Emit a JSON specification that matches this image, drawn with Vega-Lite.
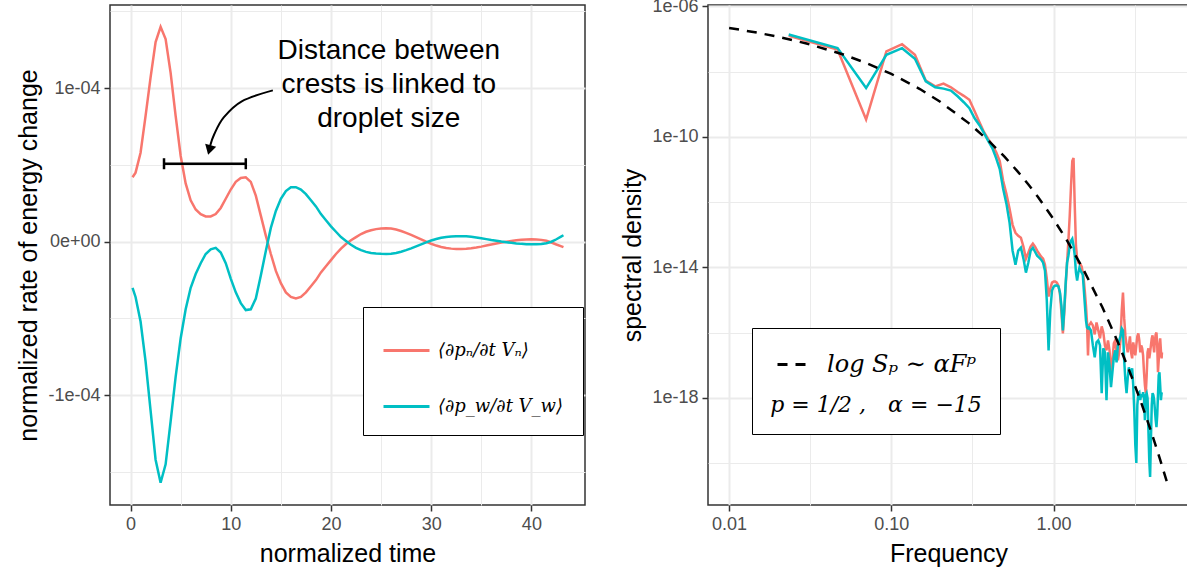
{
  "$schema": "https://vega.github.io/schema/vega-lite/v6.json",
  "background": "white",
  "padding": {"left": 16, "top": -4, "right": 0, "bottom": 0},
  "bounds": "flush",
  "spacing": 123,
  "config": {
    "font": "Liberation Sans",
    "view": {"stroke": "#333333", "strokeWidth": 1.5},
    "axis": {
      "domain": false,
      "gridColor": "#EBEBEB",
      "labelFontSize": 18,
      "labelColor": "#4D4D4D",
      "labelFont": "Liberation Sans",
      "titleFont": "Liberation Sans",
      "titleFontSize": 25,
      "titleFontWeight": "normal",
      "titleColor": "#000000",
      "tickColor": "#333333",
      "tickWidth": 1.5,
      "tickSize": 6,
      "labelPadding": 4,
      "labelOverlap": false,
      "labelFlush": false
    },
    "legend": {
      "labelFont": "DejaVu Serif",
      "labelFontStyle": "italic",
      "labelColor": "#000000",
      "titleFont": "DejaVu Serif",
      "titleColor": "#000000",
      "titleFontWeight": "normal",
      "strokeColor": "#000000",
      "fillColor": "#FFFFFF"
    }
  },
  "datasets": {
    "ts": [
      {"t": 0.2, "n": 0.42e-4, "w": -0.30e-4},
      {"t": 0.5, "n": 0.45e-4, "w": -0.36e-4},
      {"t": 1.0, "n": 0.58e-4, "w": -0.52e-4},
      {"t": 1.5, "n": 0.82e-4, "w": -0.78e-4},
      {"t": 2.0, "n": 1.07e-4, "w": -1.10e-4},
      {"t": 2.5, "n": 1.30e-4, "w": -1.42e-4},
      {"t": 3.0, "n": 1.40e-4, "w": -1.57e-4},
      {"t": 3.5, "n": 1.32e-4, "w": -1.45e-4},
      {"t": 4.0, "n": 1.10e-4, "w": -1.17e-4},
      {"t": 4.5, "n": 0.82e-4, "w": -0.88e-4},
      {"t": 5.0, "n": 0.56e-4, "w": -0.63e-4},
      {"t": 5.5, "n": 0.38e-4, "w": -0.44e-4},
      {"t": 6.0, "n": 0.27e-4, "w": -0.30e-4},
      {"t": 6.5, "n": 0.21e-4, "w": -0.21e-4},
      {"t": 7.0, "n": 0.18e-4, "w": -0.14e-4},
      {"t": 7.5, "n": 0.165e-4, "w": -0.08e-4},
      {"t": 8.0, "n": 0.165e-4, "w": -0.05e-4},
      {"t": 8.5, "n": 0.18e-4, "w": -0.04e-4},
      {"t": 9.0, "n": 0.22e-4, "w": -0.07e-4},
      {"t": 9.5, "n": 0.28e-4, "w": -0.14e-4},
      {"t": 10.0, "n": 0.34e-4, "w": -0.24e-4},
      {"t": 10.5, "n": 0.39e-4, "w": -0.33e-4},
      {"t": 11.0, "n": 0.415e-4, "w": -0.40e-4},
      {"t": 11.5, "n": 0.42e-4, "w": -0.445e-4},
      {"t": 12.0, "n": 0.39e-4, "w": -0.44e-4},
      {"t": 12.5, "n": 0.30e-4, "w": -0.37e-4},
      {"t": 13.0, "n": 0.17e-4, "w": -0.22e-4},
      {"t": 13.5, "n": 0.04e-4, "w": -0.06e-4},
      {"t": 14.0, "n": -0.08e-4, "w": 0.09e-4},
      {"t": 14.5, "n": -0.19e-4, "w": 0.20e-4},
      {"t": 15.0, "n": -0.27e-4, "w": 0.28e-4},
      {"t": 15.5, "n": -0.33e-4, "w": 0.33e-4},
      {"t": 16.0, "n": -0.36e-4, "w": 0.355e-4},
      {"t": 16.5, "n": -0.37e-4, "w": 0.355e-4},
      {"t": 17.0, "n": -0.36e-4, "w": 0.34e-4},
      {"t": 17.5, "n": -0.33e-4, "w": 0.31e-4},
      {"t": 18.0, "n": -0.29e-4, "w": 0.27e-4},
      {"t": 18.5, "n": -0.25e-4, "w": 0.23e-4},
      {"t": 19.0, "n": -0.20e-4, "w": 0.18e-4},
      {"t": 19.5, "n": -0.16e-4, "w": 0.14e-4},
      {"t": 20.0, "n": -0.12e-4, "w": 0.10e-4},
      {"t": 20.5, "n": -0.08e-4, "w": 0.065e-4},
      {"t": 21.0, "n": -0.045e-4, "w": 0.03e-4},
      {"t": 21.5, "n": -0.015e-4, "w": 0.005e-4},
      {"t": 22.0, "n": 0.01e-4, "w": -0.02e-4},
      {"t": 22.5, "n": 0.03e-4, "w": -0.04e-4},
      {"t": 23.0, "n": 0.05e-4, "w": -0.055e-4},
      {"t": 23.5, "n": 0.065e-4, "w": -0.066e-4},
      {"t": 24.0, "n": 0.075e-4, "w": -0.073e-4},
      {"t": 24.5, "n": 0.082e-4, "w": -0.077e-4},
      {"t": 25.0, "n": 0.086e-4, "w": -0.079e-4},
      {"t": 25.5, "n": 0.088e-4, "w": -0.08e-4},
      {"t": 26.0, "n": 0.086e-4, "w": -0.078e-4},
      {"t": 26.5, "n": 0.08e-4, "w": -0.073e-4},
      {"t": 27.0, "n": 0.07e-4, "w": -0.065e-4},
      {"t": 27.5, "n": 0.058e-4, "w": -0.055e-4},
      {"t": 28.0, "n": 0.044e-4, "w": -0.043e-4},
      {"t": 28.5, "n": 0.03e-4, "w": -0.03e-4},
      {"t": 29.0, "n": 0.015e-4, "w": -0.017e-4},
      {"t": 29.5, "n": 0.0, "w": -0.004e-4},
      {"t": 30.0, "n": -0.013e-4, "w": 0.008e-4},
      {"t": 30.5, "n": -0.025e-4, "w": 0.018e-4},
      {"t": 31.0, "n": -0.034e-4, "w": 0.026e-4},
      {"t": 31.5, "n": -0.041e-4, "w": 0.031e-4},
      {"t": 32.0, "n": -0.045e-4, "w": 0.034e-4},
      {"t": 32.5, "n": -0.047e-4, "w": 0.036e-4},
      {"t": 33.0, "n": -0.047e-4, "w": 0.036e-4},
      {"t": 33.5, "n": -0.046e-4, "w": 0.035e-4},
      {"t": 34.0, "n": -0.043e-4, "w": 0.032e-4},
      {"t": 34.5, "n": -0.038e-4, "w": 0.028e-4},
      {"t": 35.0, "n": -0.032e-4, "w": 0.023e-4},
      {"t": 35.5, "n": -0.025e-4, "w": 0.017e-4},
      {"t": 36.0, "n": -0.018e-4, "w": 0.011e-4},
      {"t": 36.5, "n": -0.011e-4, "w": 0.006e-4},
      {"t": 37.0, "n": -0.005e-4, "w": 0.001e-4},
      {"t": 37.5, "n": 0.0, "w": -0.003e-4},
      {"t": 38.0, "n": 0.005e-4, "w": -0.007e-4},
      {"t": 38.5, "n": 0.01e-4, "w": -0.011e-4},
      {"t": 39.0, "n": 0.013e-4, "w": -0.014e-4},
      {"t": 39.5, "n": 0.015e-4, "w": -0.016e-4},
      {"t": 40.0, "n": 0.016e-4, "w": -0.017e-4},
      {"t": 40.5, "n": 0.015e-4, "w": -0.017e-4},
      {"t": 41.0, "n": 0.012e-4, "w": -0.015e-4},
      {"t": 41.5, "n": 0.006e-4, "w": -0.01e-4},
      {"t": 42.0, "n": -0.005e-4, "w": 0.0},
      {"t": 42.5, "n": -0.018e-4, "w": 0.016e-4},
      {"t": 43.0, "n": -0.03e-4, "w": 0.035e-4},
      {"t": 43.2, "n": -0.035e-4, "w": 0.042e-4}
    ],
    "bar": [
      {"t": 3.34, "v": 0.508e-4},
      {"t": 11.5, "v": 0.508e-4}
    ],
    "arrow": [
      {"i": 1, "t": 14.2, "v": 0.986e-4},
      {"i": 2, "t": 11.1, "v": 0.915e-4},
      {"i": 3, "t": 9.3, "v": 0.81e-4},
      {"i": 4, "t": 8.35, "v": 0.70e-4},
      {"i": 5, "t": 7.92, "v": 0.62e-4}
    ],
    "arrowhead": [
      {"t": 7.87, "v": 0.597e-4}
    ],
    "note": [
      {"t": 25.77, "v": 1.242e-4, "label": "Distance between\ncrests is linked to\ndroplet size"}
    ],
    "spec": [
      {"F": 0.0233, "n": 1.25e-7, "w": 1.37e-7},
      {"F": 0.0466, "n": 4.76e-8, "w": 5.30e-8},
      {"F": 0.0699, "n": 3.40e-10, "w": 3.13e-9},
      {"F": 0.0932, "n": 4.14e-8, "w": 3.28e-8},
      {"F": 0.1165, "n": 6.92e-8, "w": 5.21e-8},
      {"F": 0.1398, "n": 3.28e-8, "w": 2.48e-8},
      {"F": 0.1631, "n": 5.27e-9, "w": 5.02e-9},
      {"F": 0.1864, "n": 3.53e-9, "w": 3.30e-9},
      {"F": 0.2097, "n": 4.28e-9, "w": 3.01e-9},
      {"F": 0.233, "n": 3.30e-9, "w": 2.61e-9},
      {"F": 0.2563, "n": 2.37e-9, "w": 1.75e-9},
      {"F": 0.2796, "n": 1.81e-9, "w": 1.15e-9},
      {"F": 0.3029, "n": 1.37e-9, "w": 7.52e-10},
      {"F": 0.3262, "n": 6.10e-10, "w": 3.72e-10},
      {"F": 0.3495, "n": 2.81e-10, "w": 2.28e-10},
      {"F": 0.3728, "n": 1.39e-10, "w": 1.30e-10},
      {"F": 0.3961, "n": 8.51e-11, "w": 7.40e-11},
      {"F": 0.4194, "n": 5.58e-11, "w": 4.52e-11},
      {"F": 0.4427, "n": 3.41e-11, "w": 2.24e-11},
      {"F": 0.466, "n": 1.81e-11, "w": 1.03e-11},
      {"F": 0.4893, "n": 4.44e-12, "w": 2.53e-12},
      {"F": 0.5126, "n": 1.78e-12, "w": 8.81e-13},
      {"F": 0.5359, "n": 6.19e-13, "w": 2.32e-13},
      {"F": 0.5592, "n": 2.01e-13, "w": 3.24e-14},
      {"F": 0.5825, "n": 1.15e-13, "w": 1.21e-14},
      {"F": 0.6058, "n": 9.29e-14, "w": 3.24e-14},
      {"F": 0.6291, "n": 8.07e-14, "w": 4.00e-14},
      {"F": 0.6524, "n": 4.29e-14, "w": 1.85e-14},
      {"F": 0.6757, "n": 1.85e-14, "w": 6.89e-15},
      {"F": 0.699, "n": 2.81e-14, "w": 1.39e-14},
      {"F": 0.7223, "n": 4.29e-14, "w": 3.24e-14},
      {"F": 0.7456, "n": 5.30e-14, "w": 4.00e-14},
      {"F": 0.7689, "n": 4.29e-14, "w": 3.01e-14},
      {"F": 0.7922, "n": 3.24e-14, "w": 2.28e-14},
      {"F": 0.8155, "n": 2.62e-14, "w": 1.98e-14},
      {"F": 0.8388, "n": 2.12e-14, "w": 1.72e-14},
      {"F": 0.8621, "n": 1.85e-14, "w": 1.39e-14},
      {"F": 0.8854, "n": 1.21e-14, "w": 7.93e-15},
      {"F": 0.9087, "n": 4.52e-15, "w": 9.62e-16},
      {"F": 0.932, "n": 1.27e-15, "w": 2.86e-17},
      {"F": 0.9553, "n": 2.24e-15, "w": 4.76e-16},
      {"F": 0.9786, "n": 3.41e-15, "w": 1.95e-15},
      {"F": 1.0019, "n": 3.66e-15, "w": 2.58e-15},
      {"F": 1.0252, "n": 3.66e-15, "w": 2.76e-15},
      {"F": 1.0485, "n": 3.41e-15, "w": 2.76e-15},
      {"F": 1.0718, "n": 2.76e-15, "w": 2.58e-15},
      {"F": 1.0951, "n": 1.57e-15, "w": 1.69e-15},
      {"F": 1.1184, "n": 4.14e-16, "w": 6.78e-16},
      {"F": 1.1417, "n": 9.46e-17, "w": 1.17e-16},
      {"F": 1.165, "n": 4.14e-16, "w": 5.48e-16},
      {"F": 1.1883, "n": 2.76e-15, "w": 3.41e-15},
      {"F": 1.2116, "n": 1.39e-14, "w": 1.39e-14},
      {"F": 1.2349, "n": 6.53e-14, "w": 2.28e-14},
      {"F": 1.2582, "n": 3.79e-13, "w": 4.60e-14},
      {"F": 1.2815, "n": 3.13e-12, "w": 6.53e-14},
      {"F": 1.3048, "n": 1.81e-11, "w": 7.52e-14},
      {"F": 1.3281, "n": 2.24e-11, "w": 4.60e-14},
      {"F": 1.3514, "n": 7.66e-13, "w": 2.28e-14},
      {"F": 1.3747, "n": 4.60e-14, "w": 6.89e-15},
      {"F": 1.398, "n": 1.85e-14, "w": 3.93e-15},
      {"F": 1.4213, "n": 1.39e-14, "w": 6.89e-15},
      {"F": 1.4446, "n": 1.30e-14, "w": 9.79e-15},
      {"F": 1.4679, "n": 1.21e-14, "w": 7.93e-15},
      {"F": 1.4912, "n": 1.05e-14, "w": 6.89e-15},
      {"F": 1.5145, "n": 6.89e-15, "w": 5.98e-15},
      {"F": 1.5378, "n": 3.93e-15, "w": 1.95e-15},
      {"F": 1.5611, "n": 1.69e-15, "w": 6.78e-16},
      {"F": 1.5844, "n": 6.78e-16, "w": 2.36e-16},
      {"F": 1.6077, "n": 2.05e-16, "w": 1.44e-16},
      {"F": 1.631, "n": 2.01e-17, "w": 1.34e-16},
      {"F": 1.6543, "n": 1.66e-16, "w": 1.44e-16},
      {"F": 1.7009, "n": 2.05e-16, "w": 1.17e-16},
      {"F": 1.7475, "n": 1.66e-16, "w": 4.06e-17},
      {"F": 1.7941, "n": 8.81e-17, "w": 1.75e-17},
      {"F": 1.8407, "n": 2.05e-16, "w": 5.02e-17},
      {"F": 1.8873, "n": 1.17e-16, "w": 5.78e-17},
      {"F": 1.9339, "n": 6.65e-17, "w": 4.06e-17},
      {"F": 1.9805, "n": 1.55e-16, "w": 1.39e-18},
      {"F": 2.0271, "n": 1.01e-16, "w": 3.30e-17},
      {"F": 2.0737, "n": 4.06e-17, "w": 2.48e-17},
      {"F": 2.1203, "n": 2.86e-17, "w": 8.51e-19},
      {"F": 2.1669, "n": 5.78e-17, "w": 2.48e-17},
      {"F": 2.2135, "n": 2.86e-17, "w": 9.95e-18},
      {"F": 2.2601, "n": 6.10e-18, "w": 2.12e-18},
      {"F": 2.3067, "n": 1.42e-17, "w": 6.10e-18},
      {"F": 2.3533, "n": 4.68e-17, "w": 1.75e-17},
      {"F": 2.3999, "n": 5.78e-17, "w": 2.86e-17},
      {"F": 2.4465, "n": 2.48e-17, "w": 1.23e-17},
      {"F": 2.4931, "n": 1.42e-17, "w": 4.06e-17},
      {"F": 2.5397, "n": 2.48e-17, "w": 5.78e-17},
      {"F": 2.5863, "n": 5.78e-17, "w": 7.66e-17},
      {"F": 2.6329, "n": 4.76e-16, "w": 1.34e-16},
      {"F": 2.6795, "n": 1.69e-15, "w": 1.17e-16},
      {"F": 2.7261, "n": 2.72e-16, "w": 1.42e-17},
      {"F": 2.7727, "n": 8.20e-17, "w": 3.47e-18},
      {"F": 2.8193, "n": 4.06e-17, "w": 1.39e-18},
      {"F": 2.8659, "n": 2.48e-17, "w": 4.00e-18},
      {"F": 2.9125, "n": 4.06e-17, "w": 8.65e-18},
      {"F": 2.9591, "n": 7.66e-17, "w": 6.10e-18},
      {"F": 3.0057, "n": 2.48e-17, "w": 4.93e-18},
      {"F": 3.0523, "n": 1.63e-17, "w": 8.07e-18},
      {"F": 3.0989, "n": 5.02e-17, "w": 2.44e-18},
      {"F": 3.1455, "n": 3.30e-17, "w": 4.21e-19},
      {"F": 3.1921, "n": 2.01e-17, "w": 3.60e-20},
      {"F": 3.2387, "n": 4.06e-17, "w": 1.01e-20},
      {"F": 3.2853, "n": 7.66e-17, "w": 5.98e-19},
      {"F": 3.3319, "n": 9.46e-17, "w": 1.39e-18},
      {"F": 3.3785, "n": 5.78e-17, "w": 1.49e-18},
      {"F": 3.4251, "n": 2.48e-17, "w": 8.51e-19},
      {"F": 3.4717, "n": 4.06e-17, "w": 1.30e-18},
      {"F": 3.5183, "n": 3.30e-17, "w": 1.05e-18},
      {"F": 3.5649, "n": 2.01e-17, "w": 1.49e-18},
      {"F": 3.6115, "n": 6.10e-18, "w": 9.79e-19},
      {"F": 3.6581, "n": 2.44e-18, "w": 2.08e-19},
      {"F": 3.7047, "n": 1.39e-18, "w": 1.21e-18},
      {"F": 3.7513, "n": 4.93e-18, "w": 1.39e-18},
      {"F": 3.7979, "n": 2.48e-17, "w": 9.79e-19},
      {"F": 3.8445, "n": 3.30e-17, "w": 1.03e-19},
      {"F": 3.8911, "n": 1.63e-17, "w": 1.25e-20},
      {"F": 3.9377, "n": 2.48e-17, "w": 3.79e-21},
      {"F": 3.9843, "n": 4.06e-17, "w": 5.11e-20},
      {"F": 4.0309, "n": 6.65e-17, "w": 5.98e-19},
      {"F": 4.0775, "n": 8.20e-17, "w": 1.39e-18},
      {"F": 4.1241, "n": 4.06e-17, "w": 1.21e-18},
      {"F": 4.1707, "n": 2.48e-17, "w": 8.51e-19},
      {"F": 4.2173, "n": 5.78e-17, "w": 4.21e-19},
      {"F": 4.2639, "n": 8.81e-17, "w": 2.08e-19},
      {"F": 4.3105, "n": 1.01e-16, "w": 1.27e-19},
      {"F": 4.3571, "n": 4.06e-17, "w": 2.96e-19},
      {"F": 4.4037, "n": 6.10e-18, "w": 1.21e-18},
      {"F": 4.4503, "n": 1.42e-17, "w": 4.93e-18},
      {"F": 4.4969, "n": 4.06e-17, "w": 6.10e-18},
      {"F": 4.5435, "n": 6.65e-17, "w": 2.44e-18},
      {"F": 4.5901, "n": 2.86e-17, "w": 8.51e-19},
      {"F": 4.6367, "n": 1.63e-17, "w": 1.39e-18},
      {"F": 4.66, "n": 2.48e-17, "w": 1.49e-18}
    ],
    "fit": [
      {"F": 0.01, "S": 2.18e-7, "fit": "log Sₚ ∼ αFᵖ"},
      {"F": 0.015, "S": 1.55e-7, "fit": "log Sₚ ∼ αFᵖ"},
      {"F": 0.02, "S": 1.17e-7, "fit": "log Sₚ ∼ αFᵖ"},
      {"F": 0.03, "S": 7.26e-8, "fit": "log Sₚ ∼ αFᵖ"},
      {"F": 0.05, "S": 3.40e-8, "fit": "log Sₚ ∼ αFᵖ"},
      {"F": 0.07, "S": 1.84e-8, "fit": "log Sₚ ∼ αFᵖ"},
      {"F": 0.1, "S": 8.49e-9, "fit": "log Sₚ ∼ αFᵖ"},
      {"F": 0.15, "S": 2.92e-9, "fit": "log Sₚ ∼ αFᵖ"},
      {"F": 0.2, "S": 1.19e-9, "fit": "log Sₚ ∼ αFᵖ"},
      {"F": 0.3, "S": 2.64e-10, "fit": "log Sₚ ∼ αFᵖ"},
      {"F": 0.4, "S": 7.40e-11, "fit": "log Sₚ ∼ αFᵖ"},
      {"F": 0.5, "S": 2.42e-11, "fit": "log Sₚ ∼ αFᵖ"},
      {"F": 0.6, "S": 8.77e-12, "fit": "log Sₚ ∼ αFᵖ"},
      {"F": 0.7, "S": 3.46e-12, "fit": "log Sₚ ∼ αFᵖ"},
      {"F": 0.8, "S": 1.46e-12, "fit": "log Sₚ ∼ αFᵖ"},
      {"F": 1.0, "S": 2.99e-13, "fit": "log Sₚ ∼ αFᵖ"},
      {"F": 1.2, "S": 7.13e-14, "fit": "log Sₚ ∼ αFᵖ"},
      {"F": 1.5, "S": 1.03e-14, "fit": "log Sₚ ∼ αFᵖ"},
      {"F": 2.0, "S": 5.98e-16, "fit": "log Sₚ ∼ αFᵖ"},
      {"F": 2.5, "S": 4.90e-17, "fit": "log Sₚ ∼ αFᵖ"},
      {"F": 3.0, "S": 5.08e-18, "fit": "log Sₚ ∼ αFᵖ"},
      {"F": 3.5, "S": 6.34e-19, "fit": "log Sₚ ∼ αFᵖ"},
      {"F": 4.0, "S": 9.14e-20, "fit": "log Sₚ ∼ αFᵖ"},
      {"F": 4.5, "S": 1.48e-20, "fit": "log Sₚ ∼ αFᵖ"},
      {"F": 5.0, "S": 2.65e-21, "fit": "log Sₚ ∼ αFᵖ"}
    ]
  },
  "resolve": {"scale": {"color": "independent"}},
  "hconcat": [
    {
      "width": 475,
      "height": 500,
      "layer": [
        {
          "data": {"name": "ts"},
          "transform": [{"fold": ["n", "w"], "as": ["series", "v"]}],
          "mark": {"type": "line", "strokeWidth": 2.5},
          "encoding": {
            "x": {
              "field": "t", "type": "quantitative", "title": "normalized time",
              "scale": {"domain": [-2.05, 45.35], "nice": false, "zero": false},
              "axis": {
                "values": [0, 5, 10, 15, 20, 25, 30, 35, 40],
                "labelExpr": "datum.value % 10 == 0 ? datum.label : ''",
                "gridWidth": {"condition": {"test": "datum.value % 10 == 0", "value": 2}, "value": 1},
                "tickOpacity": {"condition": {"test": "datum.value % 10 == 0", "value": 1}, "value": 0},
                "titlePadding": 8
              }
            },
            "y": {
              "field": "v", "type": "quantitative", "title": "normalized rate of energy change",
              "scale": {"domain": [-1.715e-4, 1.542e-4], "nice": false, "zero": false},
              "axis": {
                "values": [-1.5e-4, -1e-4, -0.5e-4, 0, 0.5e-4, 1e-4, 1.5e-4],
                "labelExpr": "abs(datum.value) < 1e-9 ? '0e+00' : (abs(datum.value - 1e-4) < 1e-9 ? '1e-04' : (abs(datum.value + 1e-4) < 1e-9 ? '-1e-04' : ''))",
                "gridWidth": {"condition": {"test": "abs(datum.value) < 1e-9 || abs(abs(datum.value) - 1e-4) < 1e-9", "value": 2}, "value": 1},
                "tickOpacity": {"condition": {"test": "abs(datum.value) < 1e-9 || abs(abs(datum.value) - 1e-4) < 1e-9", "value": 1}, "value": 0},
                "titlePadding": 6
              }
            },
            "color": {
              "field": "series", "type": "nominal",
              "scale": {"domain": ["n", "w"], "range": ["#F8766D", "#00BFC4"]},
              "legend": {
                "title": null,
                "orient": "none",
                "legendX": 253,
                "legendY": 302,
                "symbolType": "stroke",
                "symbolSize": 2116,
                "symbolStrokeWidth": 3,
                "labelFontSize": 18,
                "labelOffset": 7,
                "labelLimit": 300,
                "padding": 19,
                "rowPadding": 22,
                "labelExpr": "datum.value == 'n' ? '⟨∂pₙ/∂t Vₙ⟩' : '⟨∂p_w/∂t V_w⟩'"
              }
            }
          }
        },
        {
          "data": {"name": "bar"},
          "mark": {"type": "line", "color": "#000000", "strokeWidth": 2.5},
          "encoding": {
            "x": {"field": "t", "type": "quantitative", "title": "normalized time"},
            "y": {"field": "v", "type": "quantitative", "title": "normalized rate of energy change"}
          }
        },
        {
          "data": {"name": "bar"},
          "mark": {"type": "tick", "orient": "vertical", "color": "#000000", "size": 11, "thickness": 2.5, "opacity": 1},
          "encoding": {
            "x": {"field": "t", "type": "quantitative", "title": "normalized time"},
            "y": {"field": "v", "type": "quantitative", "title": "normalized rate of energy change"}
          }
        },
        {
          "data": {"name": "arrow"},
          "mark": {"type": "line", "color": "#000000", "strokeWidth": 2, "interpolate": "cardinal"},
          "encoding": {
            "x": {"field": "t", "type": "quantitative", "title": "normalized time"},
            "y": {"field": "v", "type": "quantitative", "title": "normalized rate of energy change"},
            "order": {"field": "i", "type": "quantitative"}
          }
        },
        {
          "data": {"name": "arrowhead"},
          "mark": {"type": "point", "shape": "triangle-down", "filled": true, "color": "#000000", "size": 130, "angle": 15, "opacity": 1},
          "encoding": {
            "x": {"field": "t", "type": "quantitative", "title": "normalized time"},
            "y": {"field": "v", "type": "quantitative", "title": "normalized rate of energy change"}
          }
        },
        {
          "data": {"name": "note"},
          "mark": {"type": "text", "fontSize": 28, "lineBreak": "\n", "lineHeight": 34, "baseline": "middle", "align": "center", "color": "#000000", "font": "Liberation Sans"},
          "encoding": {
            "x": {"field": "t", "type": "quantitative", "title": "normalized time"},
            "y": {"field": "v", "type": "quantitative", "title": "normalized rate of energy change"},
            "text": {"field": "label"}
          }
        }
      ]
    },
    {
      "width": 481,
      "height": 500,
      "layer": [
        {
          "data": {"name": "spec"},
          "transform": [{"fold": ["n", "w"], "as": ["series", "S"]}],
          "mark": {"type": "line", "strokeWidth": 2.5},
          "encoding": {
            "x": {
              "field": "F", "type": "quantitative", "title": "Frequency",
              "scale": {"type": "log", "domain": [0.00741, 6.84], "nice": false},
              "axis": {
                "values": [0.01, 0.0316228, 0.1, 0.316228, 1, 3.16228],
                "labelExpr": "abs(log(datum.value)/LN10 - round(log(datum.value)/LN10)) < 0.01 ? format(datum.value, '.2f') : ''",
                "gridWidth": {"condition": {"test": "abs(log(datum.value)/LN10 - round(log(datum.value)/LN10)) < 0.01", "value": 2}, "value": 1},
                "tickOpacity": {"condition": {"test": "abs(log(datum.value)/LN10 - round(log(datum.value)/LN10)) < 0.01", "value": 1}, "value": 0},
                "titlePadding": 8
              }
            },
            "y": {
              "field": "S", "type": "quantitative", "title": "spectral density",
              "scale": {"type": "log", "domain": [5.2e-22, 1.1e-6], "nice": false},
              "axis": {
                "values": [1e-20, 1e-18, 1e-16, 1e-14, 1e-12, 1e-10, 1e-8, 1e-6],
                "labelExpr": "round(-log(datum.value)/LN10) % 4 == 2 ? '1e-' + (round(-log(datum.value)/LN10) < 10 ? '0' : '') + round(-log(datum.value)/LN10) : ''",
                "gridWidth": {"condition": {"test": "round(-log(datum.value)/LN10) % 4 == 2", "value": 2}, "value": 1},
                "tickOpacity": {"condition": {"test": "round(-log(datum.value)/LN10) % 4 == 2", "value": 1}, "value": 0},
                "titlePadding": 6
              }
            },
            "color": {
              "field": "series", "type": "nominal",
              "scale": {"domain": ["n", "w"], "range": ["#F8766D", "#00BFC4"]},
              "legend": null
            }
          }
        },
        {
          "data": {"name": "fit"},
          "mark": {"type": "line", "color": "#000000", "strokeWidth": 2.5},
          "encoding": {
            "x": {"field": "F", "type": "quantitative", "title": "Frequency"},
            "y": {"field": "S", "type": "quantitative", "title": "spectral density"},
            "strokeDash": {
              "field": "fit", "type": "nominal",
              "scale": {"range": [[10, 8]]},
              "legend": {
                "title": "p = 1/2 ,\u2002\u2002α = −15",
                "titleOrient": "bottom",
                "titleAnchor": "middle",
                "titleFontSize": 22,
                "titleFontStyle": "italic",
                "titlePadding": 18,
                "titleLimit": 400,
                "orient": "none",
                "legendX": 642,
                "legendY": 323,
                "symbolType": "stroke",
                "symbolSize": 1156,
                "symbolStrokeWidth": 3,
                "symbolStrokeColor": "#000000",
                "labelFontSize": 24,
                "labelOffset": 14,
                "labelLimit": 300,
                "padding": 18
              }
            }
          }
        }
      ]
    }
  ]
}
